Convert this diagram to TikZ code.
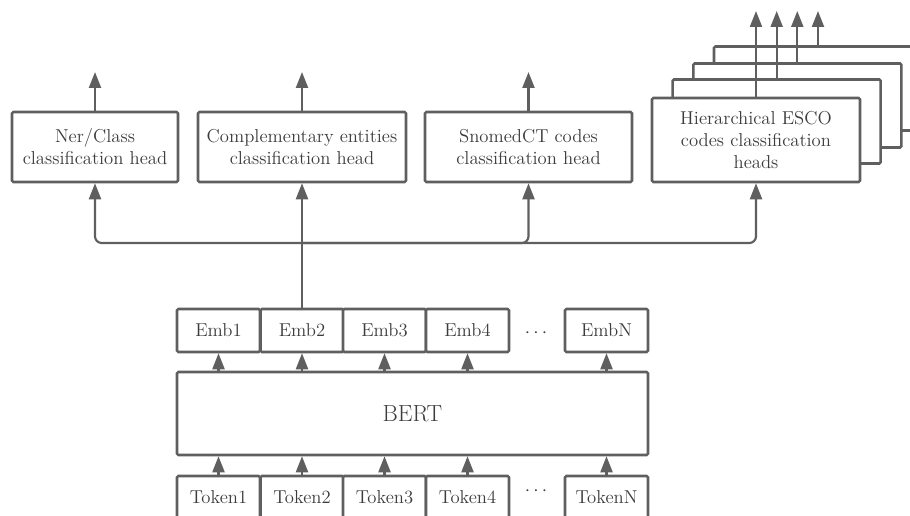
\documentclass[tikz,border=0pt]{standalone}
\usetikzlibrary{arrows.meta}
\definecolor{linec}{RGB}{95,95,95}
\definecolor{textc}{RGB}{60,60,60}
\begin{document}
\begin{tikzpicture}[x=0.75pt,y=-0.75pt,
  box/.style={draw=linec, line width=1.9pt, fill=white, rounded corners=1pt, text=textc,
    font=\fontsize{14}{16.5}\selectfont, align=center, inner sep=0pt},
  headbox/.style={box, minimum height=52.5pt},
  escobox/.style={box, minimum width=156pt, minimum height=63pt},
  smallbox/.style={box, minimum width=62.25pt, minimum height=32.25pt},
  arr/.style={draw=linec, line width=1.6pt, -{Triangle[length=12pt,width=9pt]}},
  dotsnode/.style={text=textc, font=\fontsize{14}{16.5}\selectfont, inner sep=0pt}
]
\useasboundingbox (0,0) rectangle (910,516);
\begin{scope}
\clip (0,0) rectangle (910,516);
% heads
\node[headbox, minimum width=124.5pt] (ner) at (95,147) {Ner/Class\\classification head};
\node[headbox, minimum width=156pt] (comp) at (302,147) {Complementary entities\\classification head};
\node[headbox, minimum width=155.25pt] (snomed) at (528.5,147) {SnomedCT codes\\classification head};
% ESCO stack
\node[escobox] (esco4) at (818,88.5) {};
\node[escobox] (esco3) at (797.3,105.5) {};
\node[escobox] (esco2) at (776.7,121.5) {};
\node[escobox] (esco1) at (756,140) {Hierarchical ESCO\\codes classification\\heads};
% BERT
\node[box, minimum width=353.25pt, minimum height=62.25pt, font=\fontsize{17.5}{20}\selectfont] (bert) at (412.5,413.5) {BERT};
% embeddings
\node[smallbox] (e1) at (218.5,330.5) {Emb1};
\node[smallbox] (e2) at (302,330.5) {Emb2};
\node[smallbox] (e3) at (384.5,330.5) {Emb3};
\node[smallbox] (e4) at (467.5,330.5) {Emb4};
\node[dotsnode] (edots) at (536,333) {$\cdots$};
\node[smallbox] (eN) at (606.5,330.5) {EmbN};
% tokens
\node[smallbox] (t1) at (218.5,497.5) {Token1};
\node[smallbox] (t2) at (302,497.5) {Token2};
\node[smallbox] (t3) at (384.5,497.5) {Token3};
\node[smallbox] (t4) at (467.5,497.5) {Token4};
\node[dotsnode] (tdots) at (536,491) {$\cdots$};
\node[smallbox] (tN) at (606.5,497.5) {TokenN};
% arrows tokens -> BERT -> embeddings
\foreach \n in {1,2,3,4,N}{
  \draw[arr] (t\n.north) -- (t\n.north |- bert.south);
  \draw[arr] (e\n.south |- bert.north) -- (e\n.south);
}
% bus from Emb2 to heads
\coordinate (bus) at (302,243);
\draw[arr] (e2.north) -- (comp.south);
\draw[arr, rounded corners=5pt] (bus) -| (ner.south);
\draw[arr, rounded corners=5pt] (bus) -| (snomed.south);
\draw[arr, rounded corners=5pt] (bus) -| (esco1.south);
% output arrows
\coordinate (topA) at (95,72);
\draw[arr] (ner.north) -- (ner.north |- topA);
\draw[arr] (comp.north) -- (comp.north |- topA);
\draw[arr] (snomed.north) -- (snomed.north |- topA);
\coordinate (topB) at (0,11);
\foreach \n in {1,2,3,4}{
  \draw[arr] (esco\n.north) -- (esco\n.north |- topB);
}
\end{scope}
\end{tikzpicture}
\end{document}
